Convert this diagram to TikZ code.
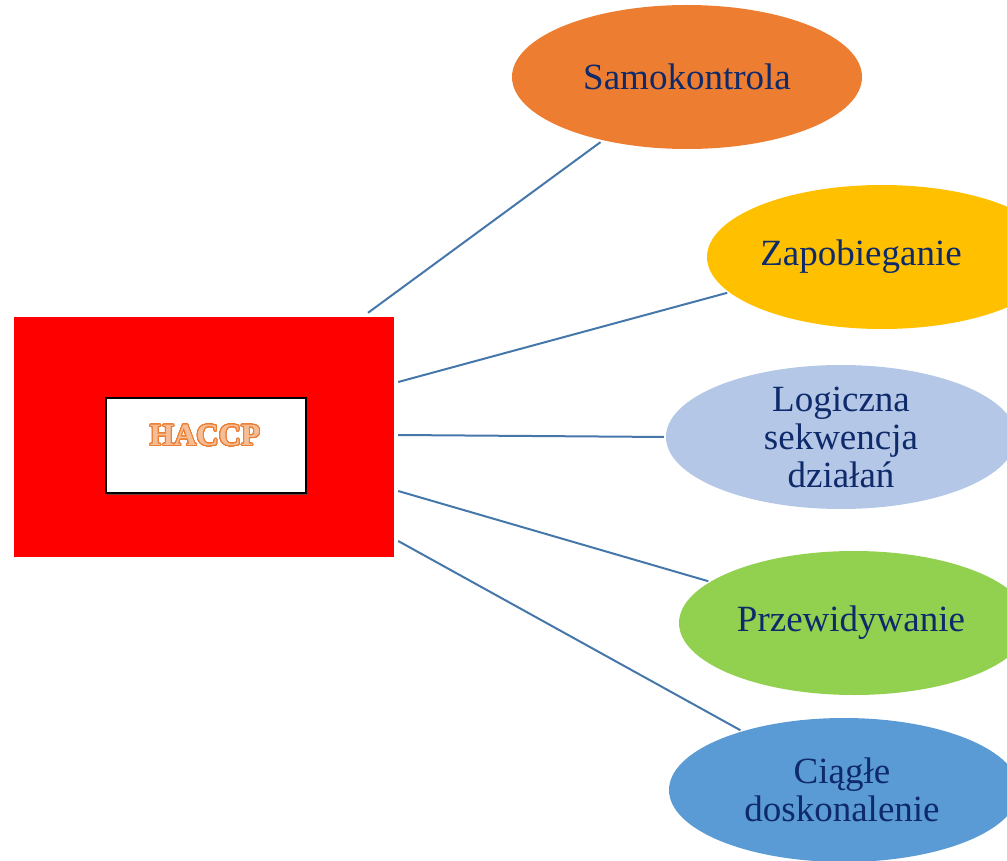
\documentclass[tikz,border=0pt]{standalone}
\usepackage{fontspec}
\setmainfont{Liberation Serif}
\usepackage[copies]{contour}
\usetikzlibrary{shapes.geometric,shadows}

\definecolor{navytext}{HTML}{0E2A6A}
\definecolor{linkblue}{HTML}{4677AA}
\definecolor{orangefill}{HTML}{ED7D31}
\definecolor{goldfill}{HTML}{FFC000}
\definecolor{paleblue}{HTML}{B4C7E7}
\definecolor{greenfill}{HTML}{92D050}
\definecolor{bluefill}{HTML}{5B9BD5}
\definecolor{peach}{HTML}{F6BE96}

\contourlength{1pt}
\contournumber{32}

\tikzset{
  bubble/.style={ellipse, draw=none, minimum width=350pt, minimum height=144pt, inner sep=0pt},
  txt/.style={text=navytext, align=center, font=\fontsize{37}{38}\selectfont, inner sep=0pt},
  link/.style={draw=linkblue, line width=2pt},
}

\begin{document}
\begin{tikzpicture}[x=1pt, y=-1pt]
  \useasboundingbox (0,0) rectangle (1007,861);
  \clip (0,0) rectangle (1007,861);

  % central block
  \node[fill=red, minimum width=380pt, minimum height=240pt, inner sep=0pt] (frame) at (204,437) {};
  \node[fill=white, draw=black, line width=1.2pt, minimum width=200pt, minimum height=95pt,
        inner sep=0pt, drop shadow={shadow xshift=1.5pt, shadow yshift=-1.5pt, fill=black!70, opacity=0.8}] (inner) at (206,445.5) {};
  \node[inner sep=0pt, font=\fontsize{31}{31}\selectfont\bfseries] (title) at (205,436)
       {\contour{orangefill}{\textcolor{peach}{HACCP}}};

  % surrounding ellipses
  \node[bubble, fill=orangefill, label={[txt]center:Samokontrola}] (e1) at (687,77) {};
  \node[bubble, fill=goldfill, label={[txt, xshift=-21pt]center:Zapobieganie}] (e2) at (882,257) {};
  \node[bubble, fill=paleblue, label={[txt]center:Logiczna\\sekwencja\\działań}] (e3) at (841,437) {};
  \node[bubble, fill=greenfill, label={[txt, xshift=-3pt]center:Przewidywanie}] (e4) at (854,623) {};
  \node[bubble, fill=bluefill, label={[txt, xshift=-2pt]center:Ciągłe\\doskonalenie}] (e5) at (844,790) {};

  % connectors
  \draw[link, shorten >=3pt] ([shift={(164pt,4pt)}]frame.north) -- (e1.217);
  \draw[link, shorten >=2pt] ([shift={(4pt,55pt)}]frame.east) -- (e2.193.6);
  \draw[link, shorten >=2pt] ([shift={(4pt,2pt)}]frame.east) -- (e3.180);
  \draw[link, shorten >=2pt] ([shift={(4pt,-54pt)}]frame.east) -- (e4.164.1);
  \draw[link, shorten >=2pt] ([shift={(4pt,-104pt)}]frame.east) -- (e5.150.7);
\end{tikzpicture}
\end{document}
